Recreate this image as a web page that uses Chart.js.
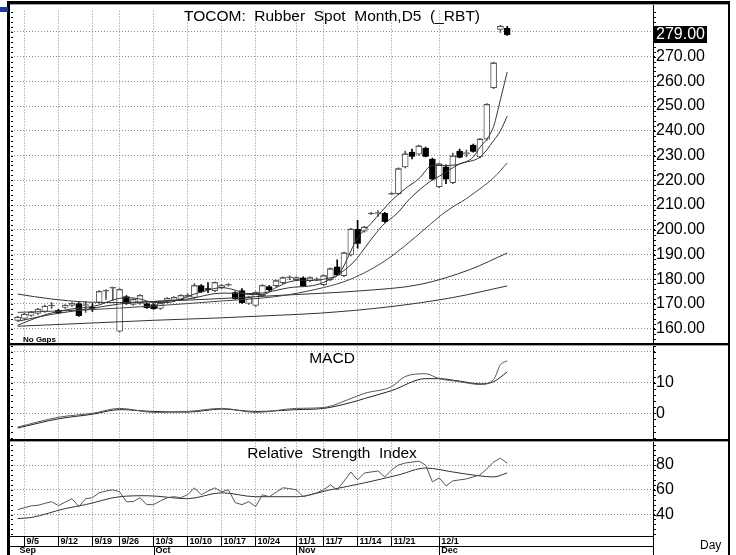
<!DOCTYPE html>
<html>
<head>
<meta charset="utf-8">
<title>TOCOM Rubber Spot Month</title>
<script src="https://cdn.jsdelivr.net/npm/chart.js@4.4.1/dist/chart.umd.min.js"></script>
<style>
  html, body { margin: 0; padding: 0; background: #fff; }
  canvas { display: block; }
</style>
</head>
<body>
<canvas id="chart" width="736" height="555"></canvas>
<script>
// daily bars, index 0 = first bar on the left
const openPrices = [
  163.4, 164.2, 165.4, 166.2, 167.0, 169.2, 167.4, 168.6, 169.4, 170.2,
  169.4, 168.6, 170.6, 175.2, 176.4, 159.0, 173.0, 169.8, 170.2, 170.2,
  169.8, 168.2, 171.0, 171.4, 171.8, 173.0, 172.6, 177.4, 176.2, 175.4,
  176.6, 177.6, 174.6, 175.4, 170.2, 169.4, 173.4, 177.0, 177.4, 178.6,
  180.6, 179.8, 180.6, 179.4, 179.9, 177.8, 179.8, 185.0, 181.4, 189.8,
  200.2, 199.4, 206.4, 206.6, 206.6, 214.4, 214.6, 225.4, 231.4, 230.6,
  233.0, 228.6, 217.4, 225.4, 219.0, 231.8, 230.6, 234.2, 229.4, 236.6,
  257.4, 281.0, 281.4
];
const highPrices = [
  165.0, 166.2, 167.0, 168.2, 169.6, 170.6, 167.8, 169.8, 170.6, 170.6,
  171.0, 170.2, 175.4, 175.8, 176.8, 176.2, 173.4, 172.2, 173.8, 170.6,
  170.2, 170.6, 172.6, 173.0, 173.8, 174.2, 178.2, 177.8, 178.6, 179.0,
  177.8, 178.2, 175.0, 176.2, 173.0, 175.0, 177.8, 177.4, 179.8, 181.0,
  181.4, 181.0, 181.0, 181.0, 180.6, 181.8, 184.6, 187.8, 191.0, 200.6,
  203.8, 201.4, 207.0, 207.8, 207.0, 215.0, 225.0, 231.8, 232.6, 234.2,
  233.4, 229.0, 227.0, 226.2, 231.0, 232.6, 232.2, 234.6, 237.0, 251.0,
  267.8, 282.6, 282.2
];
const lowPrices = [
  163.0, 163.8, 165.0, 165.8, 166.6, 168.2, 166.2, 168.2, 169.0, 165.0,
  166.6, 167.0, 170.2, 171.8, 171.4, 158.6, 169.8, 169.4, 169.8, 168.2,
  167.8, 167.8, 170.6, 171.0, 171.4, 172.6, 172.2, 174.6, 174.6, 175.0,
  176.2, 177.2, 171.8, 170.2, 169.8, 169.0, 173.0, 175.4, 177.0, 178.2,
  179.8, 179.4, 177.0, 179.0, 179.4, 177.4, 179.4, 181.4, 181.0, 189.4,
  192.6, 199.0, 206.2, 205.4, 203.0, 214.2, 214.2, 225.0, 228.6, 230.2,
  229.4, 220.2, 217.0, 218.6, 218.6, 229.0, 229.4, 231.4, 229.0, 236.2,
  257.0, 279.8, 278.6
];
const closePrices = [
  164.6, 165.8, 166.6, 167.8, 169.0, 169.4, 166.6, 169.4, 170.2, 165.4,
  169.6, 168.4, 175.0, 175.4, 176.6, 175.8, 170.2, 171.8, 173.4, 168.6,
  168.2, 170.2, 172.2, 172.6, 173.4, 173.4, 177.4, 175.0, 176.0, 178.6,
  177.4, 177.8, 172.2, 170.6, 172.6, 174.6, 177.4, 175.8, 179.4, 180.6,
  180.8, 180.6, 177.4, 180.6, 180.0, 181.4, 184.2, 181.8, 190.6, 200.2,
  194.6, 201.0, 206.6, 206.8, 203.4, 214.6, 224.6, 230.6, 229.8, 233.8,
  229.8, 220.6, 226.6, 220.6, 229.8, 229.4, 231.0, 231.8, 236.6, 250.6,
  267.4, 282.2, 279.0
];

// moving averages: [bar index, value]
const avgFast = [[0,161.4],[2,163.6],[4,165.6],[6,167.0],[8,168.0],[10,168.6],[12,169.6],[14,171.6],[16,172.6],[18,172.0],[20,170.6],[22,170.6],[24,172.0],[26,174.0],[28,175.6],[30,176.6],[32,175.6],[34,173.8],[36,173.8],[38,176.6],[40,179.0],[42,179.6],[44,179.6],[46,180.6],[47,181.4],[50,196.6],[52,202.6],[55,211.8],[57,216.6],[59,220.6],[61,226.0],[63,226.0],[65,226.6],[67,229.4],[68,233.4],[69,236.6],[70,241.8],[71,252.6],[72,263.8]];
const avgMid = [[0,163.0],[5,165.8],[10,167.8],[15,170.0],[20,171.0],[25,172.0],[30,174.4],[35,174.2],[40,176.6],[44.5,178.2],[49.3,186.6],[51.8,195.4],[53.7,201.8],[55.8,206.6],[57.7,212.6],[60.6,219.4],[62.1,221.8],[65,226.6],[68,229.4],[70,236.0],[71,240.0],[72,245.9]];
const avgSlow = [[0,166.6],[10,167.6],[20,169.2],[30,171.2],[38,173.0],[44,176.0],[48,179.0],[51,182.6],[54,187.4],[57,193.6],[60,200.6],[63,207.4],[66,212.6],[68,216.6],[70,221.0],[72,227.0]];
const avgLong = [[0,174.0],[5,172.0],[10,170.8],[15,170.6],[20,171.0],[30,172.2],[38,173.4],[44.5,174.3],[50.4,175.3],[59.2,177.9],[66.5,183.9],[72,190.6]];
const avgLonger = [[0,161.0],[10,162.2],[20,163.4],[30,164.4],[38,165.4],[44.5,166.3],[54.8,168.9],[64,172.6],[72,177.3]];

// MACD pane
const macdLine = [[0,-4.5],[6,-1.3],[11,0.0],[15,1.6],[20,0.3],[25,0.6],[30,1.6],[35,0.3],[41,1.6],[45,1.9],[49,4.8],[51,6.5],[55,8.7],[57,12.0],[60,12.9],[62,11.3],[65,10.3],[68,9.4],[70,11.0],[71,15.8],[72,17.1]];
const macdSignal = [[0,-4.8],[6,-1.8],[11,-0.3],[15,1.2],[20,0.6],[25,0.4],[30,1.4],[35,0.6],[41,1.2],[45,1.6],[49,3.5],[51,4.8],[55,7.4],[60,11.3],[62,11.3],[65,10.5],[68,9.6],[70,10.3],[72,13.5]];

// RSI pane
const rsiValues = [
  44, 45.5, 47, 47.5, 49, 50.4, 47.2, 50, 52.8, 46.4,
  52.8, 53.6, 57.6, 59, 60, 58.4, 50.4, 50.4, 53.6, 48,
  48, 51, 53.6, 54.4, 53.6, 56, 61.6, 56, 59, 61.6,
  58.4, 60, 49.6, 48, 50.4, 46.4, 56, 54.4, 58, 61.6,
  61, 60, 54.4, 56, 57.6, 60, 64, 60, 67, 74.4,
  68, 73.6, 74.4, 75.2, 70.4, 76, 80, 81.6, 82.4, 83.2,
  80, 66.4, 69.6, 63.2, 67.2, 68, 68.8, 70.4, 72, 77,
  82.4, 85.6, 81.6
];
const rsiAverage = [[0,36.8],[2,37.6],[7,44.8],[10,48],[15,54.4],[19,55.2],[25,52.8],[30,57.6],[35,54.4],[41,54.4],[46,60],[51,65.6],[56,72],[60,77.6],[64,74.4],[68,71.2],[70,70.4],[72,73.6]];

// axis labels
const priceTicks = [160, 170, 180, 190, 200, 210, 220, 230, 240, 250, 260, 270, 280];
const macdTicks = [0, 10, 20];
const rsiTicks = [40, 60, 80];
const dateTickIdx = [1, 6, 11, 15, 20, 25, 30, 35, 41, 45, 50, 55, 62];
const dateTickLabels = ['9/5', '9/12', '9/19', '9/26', '10/3', '10/10', '10/17', '10/24', '11/1', '11/7', '11/14', '11/21', '12/1'];
const monthIdx = [0, 20, 41, 62];
const monthLabels = ['Sep', 'Oct', 'Nov', 'Dec'];

const FONT = "'Liberation Sans', Arial, sans-serif";
const GRID = '#8a8a8a';
const isUp = i => closePrices[i] >= openPrices[i];
const pairs = arr => arr.map(([x, y]) => ({ x, y }));

const axisTicks = [...new Set([...monthIdx, ...dateTickIdx])].sort((a, b) => a - b);

const avgLine = (data, color) => ({
  type: 'line', data: pairs(data), yAxisID: 'yP', borderColor: color, borderWidth: 1,
  pointRadius: 0, cubicInterpolationMode: 'monotone', order: 1
});

const panelDecor = {
  id: 'panelDecor',
  afterDraw(chart) {
    const { ctx, chartArea, scales } = chart;
    const { x, yP, yM, yR } = scales;
    const left = chartArea.left;
    const right = chartArea.right;
    const cx = (left + right) / 2;
    ctx.save();

    // small ticks on both edges of every pane
    ctx.strokeStyle = '#000';
    ctx.lineWidth = 1;
    [[yP, 2], [yM, 2], [yR, 4]].forEach(([s, step]) => {
      for (let v = Math.ceil(s.min / step) * step; v <= s.max; v += step) {
        const py = Math.round(s.getPixelForValue(v)) + 0.5;
        ctx.beginPath();
        ctx.moveTo(right, py); ctx.lineTo(right + 3, py);
        ctx.moveTo(left, py); ctx.lineTo(left + 2, py);
        ctx.stroke();
      }
    });

    // frame and pane separators
    ctx.fillStyle = '#000';
    ctx.fillRect(7, 1, 723, 3);
    ctx.fillRect(7, 1, 3, 554);
    ctx.fillRect(728, 1, 2, 554);
    ctx.fillRect(7, 343, 723, 2);
    ctx.fillRect(7, 439, 723, 2);
    ctx.fillRect(right, 4, 1, 551);
    ctx.fillRect(10, 536, right - 10, 1);
    ctx.fillRect(10, 546, right - 10, 1);
    ctx.fillStyle = '#a0a0a0';
    ctx.fillRect(10, 345, 718, 1);
    ctx.fillRect(10, 441, 718, 1);
    ctx.fillRect(10, 4, 718, 1);

    // month boundary marks in the second label row
    ctx.beginPath();
    monthIdx.slice(1).forEach(i => {
      const px = Math.round(x.getPixelForValue(i)) + 0.5;
      ctx.moveTo(px, 546); ctx.lineTo(px, 555);
    });
    ctx.stroke();

    // blue tab at the top left
    ctx.fillStyle = '#1c3c9c';
    ctx.fillRect(0, 7, 8, 5);

    // pane titles
    ctx.fillStyle = '#000';
    ctx.textAlign = 'center';
    ctx.textBaseline = 'alphabetic';
    ctx.font = `15.5px ${FONT}`;
    ctx.fillText('TOCOM:  Rubber  Spot  Month,D5  (_RBT)', cx, 21);
    ctx.fillText('MACD', cx, 363);
    ctx.fillText('Relative  Strength  Index', cx, 458);

    ctx.textAlign = 'left';
    ctx.font = `bold 8px ${FONT}`;
    ctx.fillText('No Gaps', 23, 342);
    ctx.font = `12px ${FONT}`;
    ctx.fillText('Day', 700, 549);

    // last price box
    const last = closePrices[closePrices.length - 1];
    const py = yP.getPixelForValue(last);
    ctx.fillRect(right + 1, Math.round(py) - 8, 53, 17);
    ctx.fillStyle = '#fff';
    ctx.font = `16px ${FONT}`;
    ctx.textBaseline = 'middle';
    ctx.fillText(last.toFixed(2), right + 3, Math.round(py) + 1);
    ctx.restore();
  }
};

const rightAxis = (extra) => Object.assign({
  position: 'right',
  stack: 'panes',
  beginAtZero: false,
  afterFit: s => { s.width = 75; },
  grid: { color: GRID, tickLength: 2, tickColor: '#000' },
  border: { display: false, dash: [1, 2] }
}, extra);

const yTicks = callback => ({
  autoSkip: false, color: '#000', padding: 1, font: { family: FONT, size: 16 }, callback
});

new Chart(document.getElementById('chart'), {
  type: 'bar',
  data: {
    datasets: [
      {
        label: 'wick',
        data: highPrices.map((h, i) => ({ x: i, y: [lowPrices[i], h] })),
        yAxisID: 'yP', grouped: false, barThickness: 1, maxBarThickness: 1,
        backgroundColor: closePrices.map((c, i) => isUp(i) ? '#555' : '#000'),
        order: 10
      },
      {
        label: 'body',
        data: openPrices.map((o, i) => ({ x: i, y: [o, closePrices[i]] })),
        yAxisID: 'yP', grouped: false, barThickness: 6, maxBarThickness: 6,
        backgroundColor: closePrices.map((c, i) => isUp(i) ? '#fff' : '#000'),
        borderColor: closePrices.map((c, i) => isUp(i) ? '#555' : '#000'),
        borderWidth: 1, borderSkipped: false,
        order: 9
      },
      {
        type: 'line', label: 'close',
        data: closePrices.map((c, i) => ({ x: i, y: c })),
        yAxisID: 'yP', showLine: false, pointStyle: 'line', pointRadius: 3,
        pointBorderWidth: 1,
        pointBorderColor: closePrices.map((c, i) => isUp(i) ? '#555' : '#000'),
        order: 8
      },
      avgLine(avgFast, '#333'),
      avgLine(avgMid, '#333'),
      avgLine(avgSlow, '#444'),
      avgLine(avgLong, '#333'),
      avgLine(avgLonger, '#333'),
      {
        type: 'line', label: 'MACD', data: pairs(macdLine), yAxisID: 'yM',
        borderColor: '#555', borderWidth: 1, pointRadius: 0, cubicInterpolationMode: 'monotone'
      },
      {
        type: 'line', label: 'Signal', data: pairs(macdSignal), yAxisID: 'yM',
        borderColor: '#222', borderWidth: 1, pointRadius: 0, cubicInterpolationMode: 'monotone'
      },
      {
        type: 'line', label: 'RSI', data: rsiValues.map((v, i) => ({ x: i, y: v })), yAxisID: 'yR',
        borderColor: '#555', borderWidth: 1, pointRadius: 0, tension: 0
      },
      {
        type: 'line', label: 'RSI avg', data: pairs(rsiAverage), yAxisID: 'yR',
        borderColor: '#333', borderWidth: 1, pointRadius: 0, cubicInterpolationMode: 'monotone'
      }
    ]
  },
  options: {
    responsive: false,
    animation: false,
    events: [],
    layout: { padding: { left: 11, right: 8, top: 5, bottom: 0 } },
    plugins: { legend: { display: false }, tooltip: { enabled: false } },
    scales: {
      x: {
        type: 'linear',
        min: -0.97,
        max: 93.44,
        offset: false,
        afterBuildTicks: s => { s.ticks = axisTicks.map(v => ({ value: v })); },
        afterFit: s => { s.height = 19; },
        grid: {
          offset: false,
          tickLength: 10,
          color: c => c.tick && dateTickIdx.includes(c.tick.value) ? GRID : 'rgba(0,0,0,0)',
          tickColor: c => c.tick && dateTickIdx.includes(c.tick.value) ? '#000' : 'rgba(0,0,0,0)'
        },
        border: { display: false, dash: [1, 2] },
        ticks: {
          autoSkip: false,
          maxRotation: 0,
          align: 'start',
          labelOffset: 2,
          padding: -9,
          color: '#000',
          font: { family: FONT, size: 9, weight: 'bold', lineHeight: 1 },
          callback: v => {
            const d = dateTickIdx.indexOf(v);
            const m = monthIdx.indexOf(v);
            return [d >= 0 ? dateTickLabels[d] : '', m >= 0 ? monthLabels[m] : ''];
          }
        }
      },
      yP: rightAxis({
        stackWeight: 338.5, min: 153.2, max: 288.6,
        afterBuildTicks: s => { s.ticks = priceTicks.map(v => ({ value: v })); },
        ticks: yTicks(v => v === 280 ? '' : v.toFixed(2))
      }),
      yM: rightAxis({
        stackWeight: 96, min: -8.87, max: 22.1,
        afterBuildTicks: s => { s.ticks = macdTicks.map(v => ({ value: v })); },
        ticks: yTicks(v => v === 20 ? '' : String(v))
      }),
      yR: rightAxis({
        stackWeight: 96.5, min: 22.64, max: 99.84,
        afterBuildTicks: s => { s.ticks = rsiTicks.map(v => ({ value: v })); },
        ticks: yTicks(v => String(v))
      })
    }
  },
  plugins: [panelDecor]
});
</script>
</body>
</html>
